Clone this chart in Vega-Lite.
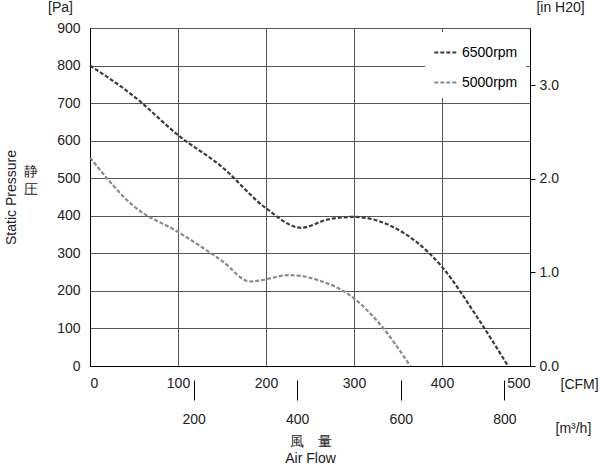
{
  "$schema": "https://vega.github.io/schema/vega-lite/v6.json",
  "autosize": "none",
  "width": 440,
  "height": 338,
  "padding": {"left": 90, "top": 28, "right": 70, "bottom": 102},
  "background": "white",
  "config": {
    "view": {"stroke": "black", "strokeWidth": 1},
    "font": "Liberation Sans",
    "axis": {"labelFont": "Liberation Sans", "titleFont": "Liberation Sans", "labelFontSize": 14, "titleFontSize": 14, "titleFontWeight": "normal", "labelColor": "#222", "titleColor": "#222", "domainColor": "black", "tickColor": "black"}
  },
  "datasets": {
    "curves": [
      {"cfm": 0, "pa": 800, "speed": "6500rpm"},
      {"cfm": 50, "pa": 718, "speed": "6500rpm"},
      {"cfm": 100, "pa": 615, "speed": "6500rpm"},
      {"cfm": 150, "pa": 530, "speed": "6500rpm"},
      {"cfm": 200, "pa": 420, "speed": "6500rpm"},
      {"cfm": 240, "pa": 368, "speed": "6500rpm"},
      {"cfm": 270, "pa": 390, "speed": "6500rpm"},
      {"cfm": 300, "pa": 397, "speed": "6500rpm"},
      {"cfm": 340, "pa": 375, "speed": "6500rpm"},
      {"cfm": 400, "pa": 264, "speed": "6500rpm"},
      {"cfm": 440, "pa": 130, "speed": "6500rpm"},
      {"cfm": 475, "pa": 0, "speed": "6500rpm"},
      {"cfm": 0, "pa": 555, "speed": "5000rpm"},
      {"cfm": 50, "pa": 425, "speed": "5000rpm"},
      {"cfm": 100, "pa": 357, "speed": "5000rpm"},
      {"cfm": 150, "pa": 280, "speed": "5000rpm"},
      {"cfm": 182, "pa": 225, "speed": "5000rpm"},
      {"cfm": 227, "pa": 242, "speed": "5000rpm"},
      {"cfm": 260, "pa": 228, "speed": "5000rpm"},
      {"cfm": 295, "pa": 189, "speed": "5000rpm"},
      {"cfm": 330, "pa": 110, "speed": "5000rpm"},
      {"cfm": 364, "pa": 0, "speed": "5000rpm"}
    ]
  },
  "layer": [
    {
      "data": {"name": "curves"},
      "mark": {"type": "line", "strokeWidth": 2.2, "interpolate": "monotone"},
      "encoding": {
        "x": {"field": "cfm", "type": "quantitative", "scale": {"domain": [0, 500], "nice": false},
          "axis": {"values": [0, 100, 200, 300, 400, 500], "grid": true, "gridColor": "#555", "ticks": false, "labelPadding": 10, "title": "[CFM]", "titleAngle": 0, "titleAlign": "left", "titleX": 470, "titleY": 18, "titleBaseline": "middle"}},
        "y": {"field": "pa", "type": "quantitative", "scale": {"domain": [0, 900], "nice": false},
          "axis": {"values": [0, 100, 200, 300, 400, 500, 600, 700, 800, 900], "grid": true, "gridColor": "#555", "ticks": false, "labelPadding": 10, "title": ["静", "圧"], "titleAngle": 0, "titleX": -60, "titleY": 150, "titleLineHeight": 18, "titleAlign": "center"}},
        "color": {"field": "speed", "type": "nominal", "scale": {"domain": ["6500rpm", "5000rpm"], "range": ["#3b3b3b", "#8a8a8a"]},
          "legend": {"orient": "top-right", "title": null, "symbolType": "stroke", "symbolStrokeWidth": 2.2, "symbolDash": [4, 2], "symbolSize": 500, "labelFontSize": 14, "labelFont": "Liberation Sans", "fillColor": "white", "padding": 8, "rowPadding": 10, "offset": 4}},
        "strokeDash": {"value": [4, 2]}
      }
    },
    {
      "data": {"values": [{"v": 0}, {"v": 900}]},
      "mark": {"type": "rule", "opacity": 0},
      "encoding": {
        "y": {"field": "v", "type": "quantitative", "scale": {"domain": [0, 900], "nice": false},
          "axis": {"orient": "left", "labels": false, "ticks": false, "domain": false, "grid": false, "title": "Static Pressure", "titleX": -72, "titleY": 169, "titleAlign": "center"}}
      }
    },
    {
      "data": {"values": [{"v": 0}, {"v": 900}]},
      "mark": {"type": "rule", "opacity": 0},
      "encoding": {
        "y": {"field": "v", "type": "quantitative", "scale": {"domain": [0, 900], "nice": false},
          "axis": {"orient": "left", "labels": false, "ticks": false, "domain": false, "grid": false, "title": "[Pa]", "titleAngle": 0, "titleX": -30, "titleY": -14, "titleAlign": "center"}}
      }
    },
    {
      "data": {"values": [{"w": 0}, {"w": 3.613}]},
      "mark": {"type": "rule", "opacity": 0},
      "encoding": {
        "y": {"field": "w", "type": "quantitative", "scale": {"domain": [0, 3.613], "nice": false},
          "axis": {"orient": "right", "values": [0, 1, 2, 3], "format": ".1f", "grid": false, "tickSize": 5, "labelPadding": 4, "title": "[in H20]", "titleAngle": 0, "titleX": 30, "titleY": -14, "titleAlign": "center"}}
      }
    },
    {
      "data": {"values": [{"m": 0}, {"m": 849.5}]},
      "mark": {"type": "rule", "opacity": 0},
      "encoding": {
        "x": {"field": "m", "type": "quantitative", "scale": {"domain": [0, 849.5], "nice": false},
          "axis": {"orient": "bottom", "values": [200, 400, 600, 800], "offset": 14, "domain": false, "grid": false, "tickSize": 20, "labelPadding": 12, "title": "[m³/h]", "titleAngle": 0, "titleAlign": "left", "titleX": 465, "titleY": 48, "titleBaseline": "middle"}}
      }
    },
    {
      "data": {"values": [{"m": 0}, {"m": 500}]},
      "mark": {"type": "rule", "opacity": 0},
      "encoding": {
        "x": {"field": "m", "type": "quantitative", "scale": {"domain": [0, 500], "nice": false},
          "axis": {"orient": "bottom", "labels": false, "ticks": false, "domain": false, "grid": false, "title": ["風　量", "Air Flow"], "titleX": 220, "titleY": 68, "titleLineHeight": 17, "titleAlign": "center"}}
      }
    }
  ],
  "resolve": {"scale": {"x": "independent", "y": "independent"}, "axis": {"x": "independent", "y": "independent"}}
}
